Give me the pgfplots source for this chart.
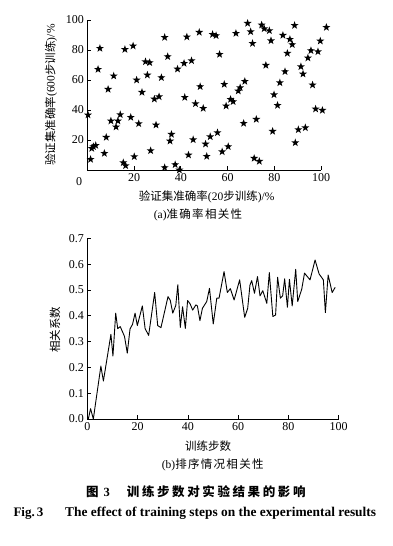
\documentclass[border=0pt]{standalone}
\usepackage{fontspec}
\setmainfont{Liberation Serif}
\newfontfamily\cjk{Noto Sans CJK SC}
\usepackage{pgfplots}
\pgfplotsset{compat=1.18}
\pgfdeclareplotmark{fstar}{%
  \pgfpathmoveto{\pgfpointpolar{90}{\pgfplotmarksize}}%
  \pgfpathlineto{\pgfpointpolar{126}{0.4\pgfplotmarksize}}%
  \pgfpathlineto{\pgfpointpolar{162}{\pgfplotmarksize}}%
  \pgfpathlineto{\pgfpointpolar{198}{0.4\pgfplotmarksize}}%
  \pgfpathlineto{\pgfpointpolar{234}{\pgfplotmarksize}}%
  \pgfpathlineto{\pgfpointpolar{270}{0.4\pgfplotmarksize}}%
  \pgfpathlineto{\pgfpointpolar{306}{\pgfplotmarksize}}%
  \pgfpathlineto{\pgfpointpolar{342}{0.4\pgfplotmarksize}}%
  \pgfpathlineto{\pgfpointpolar{18}{\pgfplotmarksize}}%
  \pgfpathlineto{\pgfpointpolar{54}{0.4\pgfplotmarksize}}%
  \pgfpathclose
  \pgfusepathqfill
}
\pgfplotstableread{
x y
0.3 36.7
1.4 7.1
1.9 14.4
2.6 15.6
3.6 16.4
4.6 67.1
5.4 81.1
7.3 11.1
8.1 21.8
8.9 53.8
10.1 32.7
11.3 62.7
12.3 28.7
13.1 32.7
14.1 36.9
15.4 4.9
16.1 80.4
16.4 2.9
18.6 35.1
19.6 82.7
20.1 8.9
21.1 60.0
22.0 30.9
23.4 51.8
24.9 72.2
25.7 63.3
26.7 71.6
27.1 12.9
28.7 47.3
29.4 30.0
30.7 48.9
31.7 61.6
33.1 88.4
33.1 1.6
34.4 75.6
35.4 19.3
36.0 23.8
37.6 3.6
38.6 67.3
39.4 0.0
41.4 71.1
41.7 48.4
42.6 88.7
43.3 10.0
44.6 72.9
45.3 20.2
46.3 44.2
47.9 91.8
48.3 55.6
49.6 41.1
50.6 17.3
51.1 9.1
52.6 22.2
53.6 90.4
55.1 89.6
55.7 24.9
56.6 77.1
57.7 12.2
58.6 57.1
59.4 42.7
60.3 15.6
61.3 47.1
62.4 45.6
63.6 91.1
64.6 52.7
65.4 54.9
66.9 31.1
67.4 59.1
68.6 97.8
69.9 92.2
70.7 84.4
71.4 7.8
72.3 33.8
73.6 5.8
74.6 96.7
75.7 94.2
76.4 69.8
77.9 92.9
78.6 86.2
79.3 25.8
79.9 50.2
81.4 43.1
82.4 58.2
83.7 89.8
84.6 65.6
85.6 77.8
86.7 87.1
87.7 83.6
88.7 96.4
89.0 18.2
90.3 26.9
91.4 68.9
92.3 64.0
93.3 28.2
94.4 74.7
95.7 79.6
96.4 56.7
97.7 40.7
98.7 78.9
99.7 86.0
100.6 39.8
102.3 95.1
}\scatterdata
\pgfplotstableread{
x y
0.4 0.00
1.3 0.04
2.4 0.00
5.4 0.205
6.4 0.147
9.4 0.328
10.2 0.244
11.3 0.41
12.1 0.35
13.1 0.358
14.8 0.32
15.9 0.255
17.0 0.349
18.0 0.367
19.0 0.41
19.9 0.362
21.9 0.438
23.0 0.35
24.4 0.324
26.8 0.49
28.0 0.362
29.3 0.354
32.1 0.474
33.0 0.46
34.0 0.41
35.2 0.44
36.0 0.52
37.0 0.355
37.9 0.435
39.0 0.351
39.9 0.459
40.9 0.446
41.9 0.422
43.2 0.442
43.8 0.438
44.8 0.381
45.8 0.429
47.5 0.455
48.6 0.506
50.1 0.368
51.5 0.468
52.4 0.468
54.4 0.571
55.7 0.49
56.9 0.505
58.4 0.461
60.6 0.539
62.6 0.394
63.8 0.429
64.7 0.519
65.4 0.536
66.5 0.487
67.7 0.552
68.7 0.477
69.8 0.497
71.4 0.448
72.4 0.567
73.8 0.397
74.9 0.403
75.7 0.549
76.8 0.468
77.7 0.477
78.5 0.543
79.6 0.433
80.4 0.541
81.5 0.438
82.9 0.58
83.7 0.455
85.3 0.503
86.4 0.565
88.6 0.539
90.6 0.616
92.2 0.562
93.9 0.539
94.7 0.412
95.8 0.558
97.4 0.49
98.6 0.51
}\linedata
\newcommand\lab{\fontsize{11.5}{12}\selectfont}
\newcommand\lsp[1]{#1\hspace{1.3pt}}
\newcommand\csp[1]{#1\hspace{2.6pt}}
\begin{document}
\begin{tikzpicture}[x=1pt,y=1pt]
\path (0,0) rectangle (393,546);
\pgfplotsset{mystyle/.style={
  scale only axis, axis lines=left,
  axis line style={-, line width=0.7pt, black},
  tick align=inside, major tick length=4pt,
  tick style={line width=0.7pt, black},
  ticklabel style={font=\fontsize{12}{12}\selectfont},
  /pgf/number format/assume math mode=true,
  clip=false}}
\begin{axis}[mystyle, at={(87.3pt,376pt)}, anchor=south west,
  width=233.7pt, height=150pt,
  xmin=0, xmax=100, ymin=0, ymax=100,
  xtick={20,40,...,100}, ytick={20,40,...,100}]
\addplot[only marks, mark=fstar, mark size=4.2pt, black] table[x=x,y=y] {\scatterdata};
\end{axis}
\begin{axis}[mystyle, at={(87.3pt,127pt)}, anchor=south west,
  width=251.4pt, height=180.7pt,
  xmin=0, xmax=100, ymin=0, ymax=0.7,
  xtick={0,20,...,100}, ytick={0,0.1,...,0.7},
  yticklabel style={/pgf/number format/.cd, fixed, fixed zerofill, precision=1}]
\addplot[black, line width=0.9pt, line join=round] table[x=x,y=y] {\linedata};
\end{axis}
\node[font=\fontsize{12}{12}\selectfont] at (79,364.3) {0};
\node[font=\lab, rotate=90] at (51,451) {{\cjk 验证集准确率}(600{\cjk 步训练})/\%};
\node[font=\lab] at (206.7,349.3) {{\cjk 验证集准确率}(20{\cjk 步训练})/\%};
\node[font=\lab] at (198,331) {(a){\cjk \lsp{准}\lsp{确}\lsp{率}\lsp{相}\lsp{关}性}};
\node[font=\lab, rotate=90] at (55,216) {{\cjk 相关系数}};
\node[font=\lab] at (208,100) {{\cjk 训练步数}};
\node[font=\lab] at (212.7,81) {(b){\cjk \lsp{排}\lsp{序}\lsp{情}\lsp{况}\lsp{相}\lsp{关}性}};
\node[anchor=west, inner sep=0pt, font=\fontsize{12.5}{13}\selectfont] at (86,54.3) {{\cjk\bfseries 图}\hspace{5pt}\textbf{3}};
\node[anchor=west, inner sep=0pt, font=\fontsize{12.5}{13}\selectfont] at (126.7,54.3) {\cjk\bfseries \csp{训}\csp{练}\csp{步}\csp{数}\csp{对}\csp{实}\csp{验}\csp{结}\csp{果}\csp{的}\csp{影}响};
\node[anchor=west, inner sep=0pt, font=\fontsize{13}{14}\selectfont\bfseries] at (13.3,32.7) {Fig.\,3};
\node[anchor=west, inner sep=0pt, font=\fontsize{13.4}{14}\selectfont\bfseries] at (65,32.7) {The effect of training steps on the experimental results};
\end{tikzpicture}
\end{document}
